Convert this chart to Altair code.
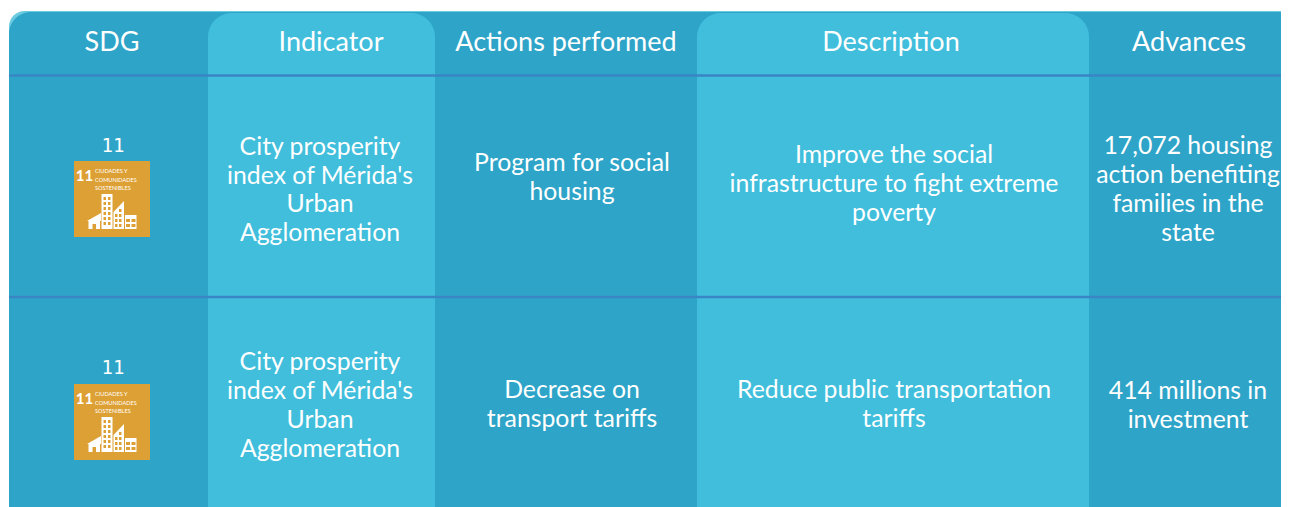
import altair as alt
import pandas as pd

W, H = 1273, 499
BG, LIGHT, RULE, EDGE, ORANGE = "#2EA4C8", "#40BEDC", "#3A85C4", "#6CCBE0", "#DDA035"

# table geometry (image pixels)
outer = [dict(x=9, x2=1300, y=12, y2=507)]
light_cols = [dict(x=208, x2=435, y=13, y2=507), dict(x=697, x2=1089, y=13, y2=507)]
rule_y = [75.5, 297]

headers = ["SDG", "Indicator", "Actions performed", "Description", "Advances"]
header_x = [112, 331, 566, 891, 1189]
header_y = [43] * 5

body_text = ["City prosperity", "index of Mérida's", "Urban", "Agglomeration",
             "Program for social", "housing",
             "Improve the social", "infrastructure to fight extreme", "poverty",
             "17,072 housing", "action benefiting", "families in the", "state",
             "City prosperity", "index of Mérida's", "Urban", "Agglomeration",
             "Decrease on", "transport tariffs",
             "Reduce public transportation", "tariffs",
             "414 millions in", "investment"]
body_x = [320, 320, 320, 320, 572, 572, 894, 894, 894, 1188, 1188, 1188, 1188,
          320, 320, 320, 320, 572, 572, 894, 894, 1188, 1188]
body_y = [148, 177, 205, 234, 164, 193, 156, 185, 214, 147, 176, 205, 234,
          363, 392, 421, 450, 391, 420, 391, 420, 392, 421]

sdg_label = ["11", "11"]
sdg_x = [113, 113]
sdg_y = [146, 368]

icon_left = [74, 74]
icon_top = [161, 384]
icon_size = 76

# icon artwork, offsets inside the icon
icon_num = "11"
icon_lines = ["CIUDADES Y", "COMUNIDADES", "SOSTENIBLES"]
icon_line_y = [10, 18.5, 26.5]
white_boxes = [(27.5, 38.5, 33, 68), (51, 62.5, 54, 68), (14.5, 26, 60, 68)]
shape_id = ["tri", "tri", "roof", "roof"]
shape_x = [39.5, 50, 13, 27]
shape_top = [51, 40, 60, 52]
shape_bot = [68, 68, 60, 60]
orange_boxes = [(18.5, 22, 63, 68), (29.5, 32, 36, 39), (34, 36.5, 36, 39),
                (29.5, 32, 41, 44), (34, 36.5, 41, 44), (29.5, 32, 46, 49), (34, 36.5, 46, 49),
                (29.5, 32, 51, 54), (34, 36.5, 51, 54), (29.5, 32, 56, 59), (34, 36.5, 56, 59),
                (29.5, 32, 61, 64), (34, 36.5, 61, 64),
                (41, 43.5, 53, 56), (45, 47.5, 48, 51), (45, 47.5, 53, 56),
                (41, 43.5, 58, 61), (45, 47.5, 58, 61), (41, 43.5, 63, 66), (45, 47.5, 63, 66),
                (52, 56, 58, 61), (57.5, 61.5, 58, 61), (52, 56, 63, 66), (57.5, 61.5, 63, 66)]

X = alt.Scale(domain=[8, 8 + W], range=[0, W])
Y = alt.Scale(domain=[8, 8 + H], range=[0, H])
ex = lambda f="x": alt.X(f"{f}:Q", scale=X, axis=None)
ey = lambda f="y": alt.Y(f"{f}:Q", scale=Y, axis=None)
x2 = alt.X2("x2:Q")
y2 = alt.Y2("y2:Q")


def rects(rows, color, **mark):
    return alt.Chart(pd.DataFrame(rows)).mark_bar(color=color, **mark).encode(
        x=ex(), x2=x2, y=ey(), y2=y2)


def texts(xs, ys, ts, size, font, color="white", **mark):
    d = pd.DataFrame({"x": xs, "y": ys, "t": ts})
    return alt.Chart(d).mark_text(fontSize=size, font=font, color=color, align="center",
                                  baseline="middle", **mark).encode(x=ex(), y=ey(), text="t:N")


def offset_boxes(boxes):
    return [dict(x=l + a, x2=l + b, y=t + c, y2=t + d)
            for l, t in zip(icon_left, icon_top) for a, b, c, d in boxes]


layers = [
    rects([dict(x=o["x"], x2=o["x2"], y=o["y"] - 1, y2=o["y"] + 30) for o in outer], EDGE,
          cornerRadiusTopLeft=22, cornerRadiusTopRight=22),
    rects(outer, BG, cornerRadiusTopLeft=22, cornerRadiusTopRight=22),
    rects(light_cols, LIGHT, cornerRadiusTopLeft=24, cornerRadiusTopRight=24),
    alt.Chart(pd.DataFrame({"y": rule_y})).mark_rule(color=RULE, strokeWidth=2.5).encode(
        y=ey(), x=alt.value(1), x2=alt.value(W)),
    texts(header_x, header_y, headers, 27, "Lato"),
    texts(body_x, body_y, body_text, 24.8, "Lato"),
    texts(sdg_x, sdg_y, sdg_label, 19, "DejaVu Sans Mono"),
    rects([dict(x=l, x2=l + icon_size, y=t, y2=t + icon_size)
           for l, t in zip(icon_left, icon_top)], ORANGE),
    rects(offset_boxes(white_boxes), "white"),
]

shape_rows = [dict(id=f"{s}{i}", x=l + a, y=t + b, y2=t + c)
              for i, (l, t) in enumerate(zip(icon_left, icon_top))
              for s, a, b, c in zip(shape_id, shape_x, shape_top, shape_bot)]
layers.append(alt.Chart(pd.DataFrame(shape_rows)).mark_area(color="white").encode(
    x=ex(), y=ey(), y2=y2, detail="id:N"))
layers.append(rects(offset_boxes(orange_boxes), ORANGE))
layers.append(texts([l + 10.5 for l in icon_left], [t + 14.5 for t in icon_top],
                    [icon_num] * 2, 15, "Lato", fontWeight="bold"))
for line, dy in zip(icon_lines, icon_line_y):
    d = pd.DataFrame({"x": [l + 21 for l in icon_left],
                      "y": [t + dy for t in icon_top], "t": [line] * 2})
    layers.append(alt.Chart(d).mark_text(fontSize=5.6, font="Lato", color="white",
                                         align="left", baseline="middle").encode(
        x=ex(), y=ey(), text="t:N"))

chart = alt.layer(*layers).properties(
    width=W, height=H, padding=0, background="white",
    autosize=alt.AutoSizeParams(type="none"),
).configure_view(stroke=None)

chart.save("out.html", embed_options={"renderer": "svg", "actions": False})
